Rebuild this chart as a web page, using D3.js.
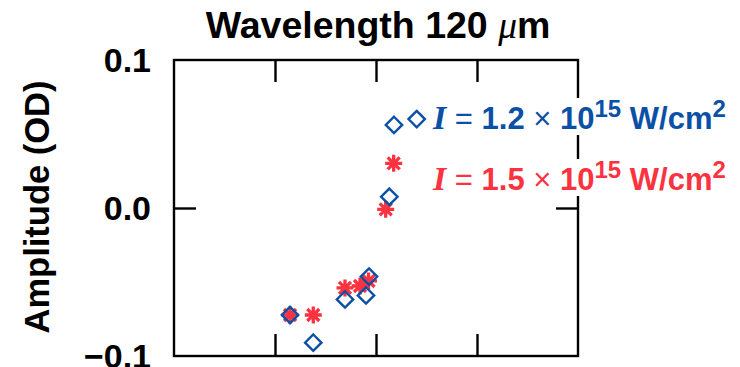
<!DOCTYPE html>
<html>
<head>
<meta charset="utf-8">
<script src="https://cdn.jsdelivr.net/npm/d3@7"></script>
<style>
  html, body { margin: 0; padding: 0; background: #fff; }
  svg { display: block; }
  text { font-family: "Liberation Sans", Arial, Helvetica, sans-serif; }
</style>
</head>
<body>
<svg id="chart" width="740" height="367"></svg>
<script>
// Scan positions (arbitrary units) and measured amplitudes (OD)
const xLow = [1.149, 1.379, 1.693, 1.901, 1.931, 2.132, 2.178, 2.403];
const yLow = [-0.0723, -0.091, -0.0618, -0.0591, -0.0463, 0.0076, 0.0561, 0.0601];
const xHigh = [1.149, 1.379, 1.693, 1.842, 1.926, 2.096, 2.175];
const yHigh = [-0.0723, -0.0723, -0.054, -0.0527, -0.0493, -0.0009, 0.0302];

const xTicks = [1, 2, 3];
const yTicks = [-0.1, 0.0, 0.1];
const yTickLabels = ["\u22120.1", "0.0", "0.1"];

const titleText = "Wavelength 120 ";
const yLabel = "Amplitude (OD)";
const seriesLabels = [
  { value: "1.2", color: "#0a50a6" },
  { value: "1.5", color: "#fb3340" }
];

const blue = seriesLabels[0].color;
const red = seriesLabels[1].color;

const svg = d3.select("#chart");
const frame = { left: 174, right: 578, top: 60, bottom: 356 };

const x = d3.scaleLinear().domain([0, 4]).range([frame.left, frame.right]);
const y = d3.scaleLinear().domain([-0.1, 0.1]).range([frame.bottom, frame.top]);

const tickLen = 22;
const axisColor = "#000";

// Frame and inward ticks on all four sides
const g = svg.append("g");
g.append("g")
  .attr("transform", `translate(0,${frame.bottom})`)
  .call(d3.axisBottom(x).tickValues(xTicks).tickSize(-tickLen).tickFormat(""))
  .call(a => a.select(".domain").remove());
g.append("g")
  .attr("transform", `translate(0,${frame.top})`)
  .call(d3.axisTop(x).tickValues(xTicks).tickSize(-tickLen).tickFormat(""))
  .call(a => a.select(".domain").remove());
g.append("g")
  .attr("transform", `translate(${frame.left},0)`)
  .call(d3.axisLeft(y).tickValues([0]).tickSize(-tickLen).tickFormat(""))
  .call(a => a.select(".domain").remove());
g.append("g")
  .attr("transform", `translate(${frame.right},0)`)
  .call(d3.axisRight(y).tickValues([0]).tickSize(-tickLen).tickFormat(""))
  .call(a => a.select(".domain").remove());
g.selectAll(".tick line").attr("stroke", axisColor).attr("stroke-width", 2.4);

g.append("rect")
  .attr("x", frame.left).attr("y", frame.top)
  .attr("width", frame.right - frame.left).attr("height", frame.bottom - frame.top)
  .attr("fill", "none").attr("stroke", axisColor).attr("stroke-width", 2.4);

// Y tick labels
svg.append("g").selectAll("text")
  .data(yTicks)
  .join("text")
  .attr("x", 151)
  .attr("y", d => y(d) + 12)
  .attr("text-anchor", "end")
  .attr("font-size", 34)
  .attr("font-weight", "bold")
  .attr("fill", "#000")
  .text((d, i) => yTickLabels[i]);

// Y axis title
svg.append("text")
  .attr("transform", `translate(49,${(frame.top + frame.bottom) / 2 - 1}) rotate(-90)`)
  .attr("text-anchor", "middle")
  .attr("font-size", 34.5)
  .attr("font-weight", "bold")
  .text(yLabel);

// Chart title
const title = svg.append("text")
  .attr("x", 378).attr("y", 38)
  .attr("text-anchor", "middle")
  .attr("font-size", 37.5)
  .attr("font-weight", "bold");
title.append("tspan").text(titleText);
title.append("tspan")
  .attr("font-family", "'Liberation Serif', 'DejaVu Serif', serif")
  .attr("font-style", "italic")
  .attr("font-weight", "normal")
  .text("\u03bc");
title.append("tspan").text("m");

// Series markers: asterisks first, diamonds over them
const highData = xHigh.map((v, i) => [v, yHigh[i]]);
const lowData = xLow.map((v, i) => [v, yLow[i]]);

const starR = 8.5;
const starPath = d3.range(4).map(k => {
  const a = k * Math.PI / 4;
  const dx = starR * Math.cos(a), dy = starR * Math.sin(a);
  return `M${-dx},${-dy}L${dx},${dy}`;
}).join("");

svg.append("g").selectAll("path")
  .data(highData)
  .join("path")
  .attr("transform", d => `translate(${x(d[0])},${y(d[1])})`)
  .attr("d", starPath)
  .attr("stroke", red)
  .attr("stroke-width", 3.3)
  .attr("fill", "none");

const dR = 8.2;
svg.append("g").selectAll("path")
  .data(lowData)
  .join("path")
  .attr("transform", d => `translate(${x(d[0])},${y(d[1])})`)
  .attr("d", `M0,${-dR}L${dR},0L0,${dR}L${-dR},0Z`)
  .attr("stroke", blue)
  .attr("stroke-width", 2.4)
  .attr("fill", "none");

// Intensity labels with white backing
const labelRows = [
  { ...seriesLabels[0], baseline: 129 },
  { ...seriesLabels[1], baseline: 190 }
];
labelRows.forEach(row => {
  const bg = svg.append("rect").attr("fill", "#fff");
  const t = svg.append("text")
    .attr("x", 433).attr("y", row.baseline)
    .attr("font-size", 31)
    .attr("font-weight", "bold")
    .attr("fill", row.color);
  t.append("tspan")
    .attr("font-family", "'Liberation Serif', 'DejaVu Serif', serif")
    .attr("font-style", "italic")
    .attr("font-weight", "bold")
    .attr("font-size", 34)
    .text("I");
  t.append("tspan").attr("font-weight", "normal").text(" = ");
  t.append("tspan").text(row.value);
  t.append("tspan").attr("font-weight", "normal").text(" \u00d7 ");
  t.append("tspan").text("10");
  t.append("tspan").attr("font-size", 24).attr("dy", -12).text("15");
  t.append("tspan").attr("dy", 12).text(" W/cm");
  t.append("tspan").attr("font-size", 24).attr("dy", -12).text("2");
  const bb = t.node().getBBox();
  bg.attr("x", bb.x - 4).attr("y", bb.y + 3)
    .attr("width", bb.width + 8).attr("height", bb.height - 4);
});
</script>
</body>
</html>
